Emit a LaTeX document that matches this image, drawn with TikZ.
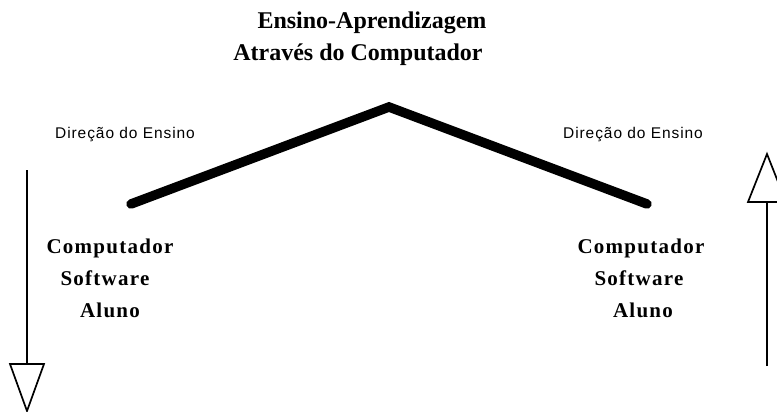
\documentclass[tikz,border=0pt]{standalone}
\usepackage{fontspec}
\setmainfont{Liberation Serif}
\newfontfamily\titlefont{Liberation Serif}
\newfontfamily\labelfont[LetterSpace=6]{Liberation Serif}
\newfontfamily\dirfont[LetterSpace=6]{Liberation Sans}
\tikzset{
  titletext/.style={anchor=base, inner sep=0pt, font=\titlefont\fontsize{24}{28}\selectfont\bfseries},
  stacktext/.style={anchor=base, inner sep=0pt, font=\labelfont\fontsize{21}{24}\selectfont\bfseries},
  dirtext/.style={anchor=base, inner sep=0pt, font=\dirfont\fontsize{15.5}{18}\selectfont},
  roof/.style={line width=9.5pt, line cap=round, line join=miter},
  shaft/.style={line width=1.7pt},
  openhead/.style={line width=1.7pt, line join=miter, fill=white}
}
\begin{document}
\begin{tikzpicture}[x=1pt,y=-1pt]
\useasboundingbox (0,0) rectangle (777,412);
\clip (0,0) rectangle (777,412);
% title
\node[titletext] (t1) at (372,29) {Ensino-Aprendizagem};
\node[titletext] (t2) at (358,61) {Através do Computador};
% roof
\coordinate (rl) at (131,204);
\coordinate (ra) at (389,107);
\coordinate (rr) at (647,204);
\draw[roof] (rl) -- (ra) -- (rr);
% direction labels
\node[dirtext] (dl) at (125,138) {Direção do Ensino};
\node[dirtext] (dr) at (633,138) {Direção do Ensino};
% left stack
\node[stacktext] (lc) at (110,253) {Computador};
\node[stacktext] (ls) at (105,285) {Software};
\node[stacktext] (la) at (110,317) {Aluno};
% right stack
\node[stacktext] (rc) at (641,253) {Computador};
\node[stacktext] (rs) at (639,285) {Software};
\node[stacktext] (ra2) at (643,317) {Aluno};
% left arrow (down)
\coordinate (ltop) at (27,170);
\coordinate (lbase) at (27,364);
\coordinate (ltip) at (27,411);
\draw[shaft] (ltop) -- (lbase);
\draw[openhead] ([xshift=-17pt]lbase) -- ([xshift=17pt]lbase) -- (ltip) -- cycle;
% right arrow (up)
\coordinate (rbot) at (767,366);
\coordinate (rbase) at (767,202);
\coordinate (rtip) at (767,154);
\draw[shaft] (rbot) -- (rbase);
\draw[openhead] ([xshift=-19pt]rbase) -- ([xshift=19pt]rbase) -- (rtip) -- cycle;
\end{tikzpicture}
\end{document}
